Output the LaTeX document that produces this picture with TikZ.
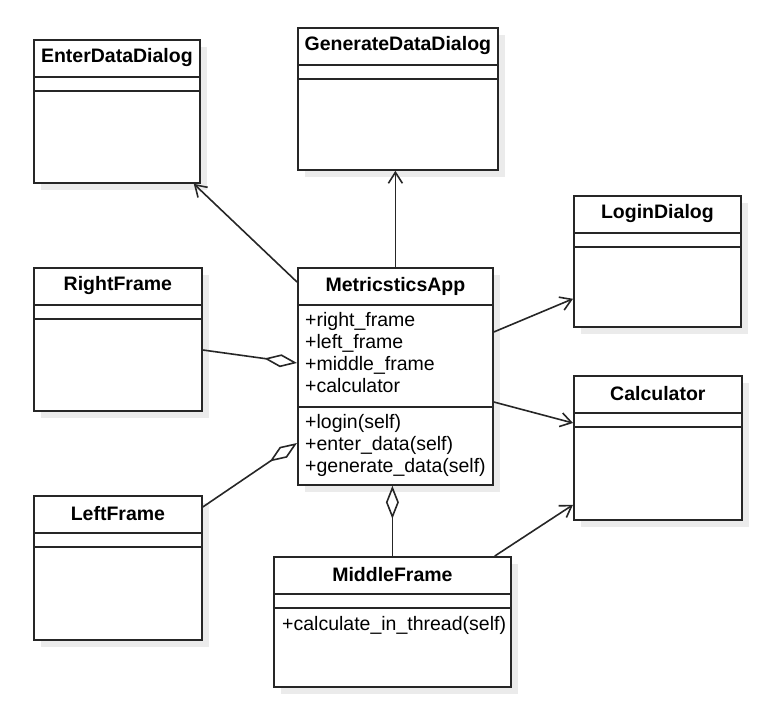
\documentclass[tikz,border=0pt]{standalone}
\usepackage{fontspec}
\setmainfont{Liberation Sans}
\usetikzlibrary{arrows.meta}

\tikzset{
  classbox/.style={draw=black!85, line width=1.8pt, fill=white, inner sep=0pt, anchor=north west},
  classshadow/.style={fill=black!8},
  classtitle/.style={font=\bfseries\fontsize{19.5}{22}\selectfont, inner sep=0pt},
  member/.style={font=\fontsize{19.5}{22}\selectfont, inner sep=0pt, anchor=base west},
  classline/.style={draw=black!85, line width=1.8pt},
  assoc/.style={draw=black!85, line width=1.6pt, -{Straight Barb[length=11pt,width=14pt]}},
  aggr/.style={draw=black!85, line width=1.6pt, -{Diamond[open,length=33pt,width=13pt]}},
}

% name, x, y, width, height, title
\newcommand{\umlclass}[6]{%
  \fill[classshadow] ({#2+8},{#3+8}) rectangle ++(#4,#5);
  \node[classbox, minimum width=#4pt, minimum height=#5pt] (#1) at (#2,#3) {};
  \node[classtitle] (#1-title) at ([yshift=-19pt]#1.north) {#6};
  \draw[classline] ([yshift=-38pt]#1.north west) -- ([yshift=-38pt]#1.north east);
}

\begin{document}
\begin{tikzpicture}[x=1pt,y=-1pt]
  \useasboundingbox (0,0) rectangle (768,711);

  \umlclass{enter}{33}{39}{166}{143}{EnterDataDialog}
  \umlclass{generate}{297}{27}{200}{142}{GenerateDataDialog}
  \umlclass{login}{573}{195}{167}{131}{LoginDialog}
  \umlclass{right}{33}{267}{168}{143}{RightFrame}
  \umlclass{app}{297}{267}{195}{217}{MetricsticsApp}
  \umlclass{calc}{573}{375}{168}{144}{Calculator}
  \umlclass{left}{33}{495}{168}{144}{LeftFrame}
  \umlclass{middle}{273}{556}{237}{130}{MiddleFrame}

  % empty attribute compartments
  \foreach \c in {enter,generate,login,right,calc,left,middle}
    \draw[classline] ([yshift=-52pt]\c.north west) -- ([yshift=-52pt]\c.north east);
  \draw[classline] ([yshift=-140pt]app.north west) -- ([yshift=-140pt]app.north east);

  % members
  \foreach \t [count=\i from 0] in {+right\_frame,+left\_frame,+middle\_frame,+calculator}
    \node[member] (app-attr\i) at (305,{326+22*\i}) {\t};
  \foreach \t [count=\i from 0] in {+login(self),+enter\_data(self),+generate\_data(self)}
    \node[member] (app-op\i) at (305,{428+22*\i}) {\t};
  \node[member] (middle-op0) at (282,630) {+calculate\_in\_thread(self)};

  % associations
  \draw[assoc] ([yshift=-15pt]app.north west) -- ([xshift=-7pt]enter.south east);
  \draw[assoc] (app.north) -- (app.north |- generate.south);
  \draw[assoc] ([yshift=-65pt]app.north east) -- ([yshift=29pt]login.south west);
  \draw[assoc] ([yshift=-135pt]app.north east) -- ([yshift=-48pt]calc.north west);
  \draw[assoc] ([xshift=-17pt]middle.north east) -- ([yshift=16pt]calc.south west);

  % aggregations
  \draw[aggr] ([yshift=-83pt]right.north east) -- ([yshift=-96pt]app.north west);
  \draw[aggr] ([yshift=-12pt]left.north east) -- ([yshift=-176pt]app.north west);
  \draw[aggr] (middle.north) -- (middle.north |- app.south);
\end{tikzpicture}
\end{document}
